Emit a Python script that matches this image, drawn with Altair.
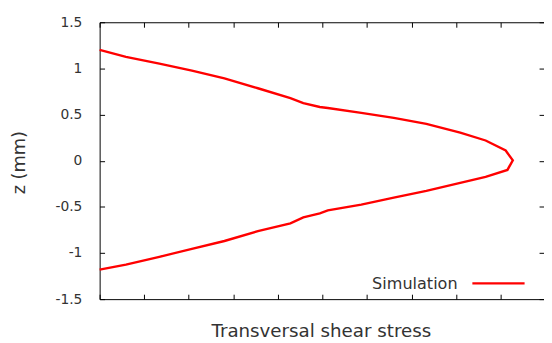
import altair as alt
import pandas as pd

# Transversal shear stress (arbitrary units) vs. z (mm)
stress = [0.0, 0.59, 1.34, 2.07, 2.80, 3.55, 4.28, 4.57, 4.94, 5.12, 5.87, 6.60,
          7.33, 8.09, 8.66, 9.11, 9.27, 9.15, 8.66, 8.09, 7.33, 6.60, 5.87, 5.12,
          4.94, 4.57, 4.28, 3.55, 2.80, 2.07, 1.34, 0.59, 0.0]
z_mm = [1.20, 1.126, 1.052, 0.977, 0.891, 0.785, 0.678, 0.625, 0.582, 0.571, 0.518, 0.464,
        0.400, 0.304, 0.219, 0.110, 0.005, -0.100, -0.176, -0.240, -0.326, -0.400, -0.475, -0.539,
        -0.571, -0.614, -0.678, -0.763, -0.870, -0.955, -1.041, -1.126, -1.18]

x_ticks = [0, 1, 2, 3, 4, 5, 6, 7, 8, 9]
y_ticks = [-1.5, -1.0, -0.5, 0.0, 0.5, 1.0, 1.5]
series_name = ["Simulation"]

df = pd.DataFrame({"stress": stress, "z": z_mm, "idx": list(range(len(stress)))})
leg_df = pd.DataFrame({"label": series_name})

W, H = 451, 281
FONT = "DejaVu Sans"
TXT = "#333333"
RED = "#ff0000"

xscale = alt.Scale(domain=[0, 9.97], nice=False, zero=False)
yscale = alt.Scale(domain=[-1.5, 1.5], nice=False, zero=False)

main = alt.Chart(df).mark_line(color=RED, strokeWidth=2.4).encode(
    x=alt.X("stress:Q", scale=xscale,
            axis=alt.Axis(orient="bottom", grid=False, ticks=False, tickSize=0, labels=False,
                          domain=True, domainColor="black", domainWidth=1,
                          title="Transversal shear stress", titleFont=FONT, titleFontSize=18.5,
                          titleFontWeight="normal", titleColor=TXT, titleX=224.5, titleY=38,
                          titleAlign="center", titleBaseline="alphabetic")),
    y=alt.Y("z:Q", scale=yscale,
            axis=alt.Axis(orient="left", grid=False, ticks=False, tickSize=0, values=y_ticks,
                          labelExpr="toString(datum.value)",
                          labelPadding=18, labelFont=FONT, labelFontSize=14, labelColor=TXT,
                          domain=True, domainColor="black", domainWidth=1,
                          title="z (mm)", titleFont=FONT, titleFontSize=18,
                          titleFontWeight="normal", titleColor=TXT, titleX=-76, titleY=142,
                          titleAngle=270, titleAlign="center", titleBaseline="alphabetic")),
    order="idx:Q",
)

# inward ticks on bottom and left
ticks_bl = alt.Chart(df).mark_line(opacity=0).encode(
    x=alt.X("stress:Q", scale=xscale, title="",
            axis=alt.Axis(orient="top", offset=-H, grid=False, labels=False, domain=False,
                          ticks=True, tickSize=5, tickColor="black", values=x_ticks)),
    y=alt.Y("z:Q", scale=yscale, title="",
            axis=alt.Axis(orient="right", offset=-W, grid=False, labels=False, domain=False,
                          ticks=True, tickSize=5, tickColor="black", values=y_ticks)),
    order="idx:Q",
)

# inward ticks on top and right (with top border)
ticks_tr = alt.Chart(df).mark_line(opacity=0).encode(
    x=alt.X("stress:Q", scale=xscale, title="",
            axis=alt.Axis(orient="bottom", offset=-H, grid=False, labels=False, domain=True,
                          domainColor="black", domainWidth=1,
                          ticks=True, tickSize=5, tickColor="black", values=x_ticks)),
    y=alt.Y("z:Q", scale=yscale, title="",
            axis=alt.Axis(orient="left", offset=-W, grid=False, labels=False, domain=False,
                          ticks=True, tickSize=5, tickColor="black", values=y_ticks)),
    order="idx:Q",
)

leg_text = alt.Chart(leg_df).mark_text(
    align="right", baseline="alphabetic", font=FONT, fontSize=16.3, color=TXT
).encode(x=alt.value(363.3), y=alt.value(270.5), text="label:N")

leg_line = alt.Chart(leg_df).mark_rule(color=RED, strokeWidth=2.4).encode(
    x=alt.value(378.3), x2=alt.value(431.3), y=alt.value(265)
)

chart = alt.layer(main, ticks_bl, ticks_tr, leg_text, leg_line).resolve_axis(
    x="independent", y="independent"
).properties(
    width=W, height=H, autosize="none",
    padding={"left": 93, "top": 12, "right": 0, "bottom": 40},
    background="white",
).configure_view(strokeWidth=0)

chart.save("out.html", embed_options={"renderer": "svg", "actions": False})
